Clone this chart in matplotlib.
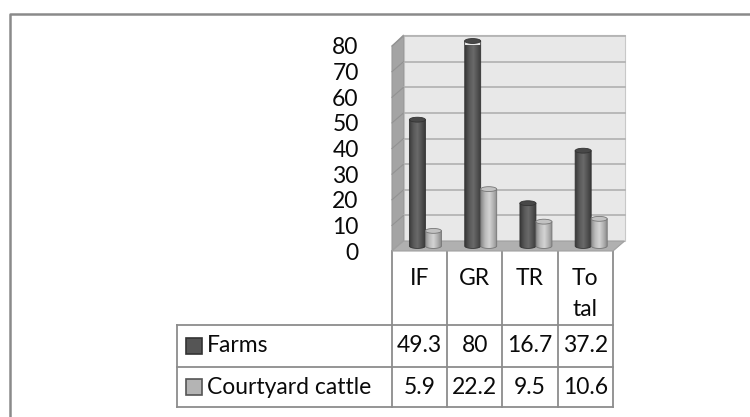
import numpy as np
import matplotlib
matplotlib.use('Agg')
import matplotlib.pyplot as plt
from matplotlib.patches import Polygon, Ellipse, PathPatch, Rectangle
from matplotlib.path import Path
from matplotlib.colors import LinearSegmentedColormap
from matplotlib.transforms import blended_transform_factory

categories = ['IF', 'GR', 'TR', 'Total']
header_labels = ['IF', 'GR', 'TR', 'To\ntal']
farms = [49.3, 80, 16.7, 37.2]
courtyard = [5.9, 22.2, 9.5, 10.6]
series_names = ['Farms', 'Courtyard cattle']
y_ticks = [0, 10, 20, 30, 40, 50, 60, 70, 80]

plt.rcParams['font.family'] = ['Lato', 'DejaVu Sans']
FS = 16.5
TXT = '#0a0a0a'
W, H = 750, 417

fig = plt.figure(figsize=(7.5, 4.17), dpi=100)
fig.patch.set_facecolor('white')

# pixel-space overlay for the outer frame and the data table
bg = fig.add_axes([0, 0, 1, 1])
bg.set_xlim(0, W)
bg.set_ylim(H, 0)
bg.axis('off')
bg.plot([10, 10, W], [H, 14, 14], color='#8a8a8a', lw=1.8, solid_capstyle='butt')

# front plane of the 3d plot area
ax = fig.add_axes([392 / W, 1 - 251 / H, (613 - 392) / W, (251 - 46) / H])
ax.patch.set_visible(False)
for s in ax.spines.values():
    s.set_visible(False)
ax.set_xticks([])
ax.set_yticks(y_ticks)
ax.set_yticklabels([str(t) for t in y_ticks])
ax.tick_params(axis='y', length=0, pad=24, labelsize=FS, labelcolor=TXT)

x_lo, x_hi = -0.5, len(categories) - 0.5
ymax = y_ticks[-1]
dx, dy = 0.21, 3.9  # depth offset in data units

# walls and floor
back = Polygon([(x_lo + dx, dy), (x_hi + dx, dy), (x_hi + dx, ymax + dy + 0.4),
                (x_lo + dx, ymax + dy + 0.4)], closed=True,
               facecolor='#e8e8e8', edgecolor='#c8c8c8', lw=0.8, zorder=1, clip_on=False)
side = Polygon([(x_lo, 0), (x_lo + dx, dy), (x_lo + dx, ymax + dy + 0.4), (x_lo, ymax)],
               closed=True, facecolor='#a4a4a4', edgecolor='#9a9a9a', lw=0.8,
               zorder=1, clip_on=False)
floor = Polygon([(x_lo, 0), (x_hi, 0), (x_hi + dx, dy), (x_lo + dx, dy)], closed=True,
                facecolor='#b0b0b0', edgecolor='#a0a0a0', lw=0.8, zorder=1, clip_on=False)
for p in (back, side, floor):
    ax.add_patch(p)

for t in y_ticks[1:]:
    ax.plot([x_lo + dx, x_hi + dx], [t + dy, t + dy], color='#b4b4b4', lw=1.3,
            zorder=2, clip_on=False)
    ax.plot([x_lo, x_lo + dx], [t, t + dy], color='#929292', lw=0.8,
            zorder=2, clip_on=False)

farm_cmap = LinearSegmentedColormap.from_list(
    'farm', ['#383838', '#585858', '#6a6a6a', '#505050', '#343434'])
yard_cmap = LinearSegmentedColormap.from_list(
    'yard', ['#8a8a8a', '#bcbcbc', '#d4d4d4', '#b0b0b0', '#828282'])

w = 0.29       # cylinder width
eh = 1.9       # ellipse height
base = dy / 2
grad = np.linspace(0, 1, 128)[None, :]
theta = np.linspace(np.pi, 2 * np.pi, 40)


def cylinder(x0, value, cmap, top_color, edge, z):
    top = value + base
    cx = x0 + w / 2
    arc = [(cx + w / 2 * np.cos(t), base + eh / 2 * np.sin(t)) for t in theta]
    verts = [(x0, top)] + arc + [(x0 + w, top), (x0, top)]
    body = PathPatch(Path(verts, closed=True), facecolor='none', edgecolor=edge,
                     lw=0.6, zorder=z + 0.2, clip_on=False)
    ax.add_patch(body)
    im = ax.imshow(grad, extent=[x0, x0 + w, base - eh / 2, top], aspect='auto',
                   cmap=cmap, zorder=z, interpolation='bilinear')
    im.set_clip_path(body)
    im.set_clip_box(None)
    ax.add_patch(Ellipse((cx, top), w, eh, facecolor=top_color, edgecolor=edge,
                         lw=0.6, zorder=z + 0.3, clip_on=False))


for i in range(len(categories)):
    cx = i + dx / 2
    cylinder(cx - w, farms[i], farm_cmap, '#484848', '#333333', 3 + i)
    cylinder(cx, courtyard[i], yard_cmap, '#c2c2c2', '#767676', 3.5 + i)

ax.set_xlim(x_lo, x_hi)
ax.set_ylim(0, ymax)

# data table under the chart
tr = blended_transform_factory(ax.transData, bg.transData)
lc, lw = '#8c8c8c', 1.3
cols = np.arange(len(categories) + 1) - 0.5
head_top, row_top, row_mid, row_bot = 251, 325, 367, 407
leg_left = 177

for c in cols:
    bg.plot([c, c], [head_top, row_bot], color=lc, lw=lw, transform=tr)
bg.plot([leg_left, leg_left], [row_top, row_bot], color=lc, lw=lw)
x_right = bg.transData.inverted().transform(ax.transData.transform((x_hi, 0)))[0]
for yy in (row_top, row_mid, row_bot):
    bg.plot([leg_left, x_right], [yy, yy], color=lc, lw=lw)

for i, lab in enumerate(header_labels):
    bg.text(i, 268, lab, transform=tr, ha='center', va='top', fontsize=FS,
            linespacing=1.6, color=TXT)

rows = [(farms, series_names[0], '#555555', '#333333', (row_top + row_mid) / 2),
        (courtyard, series_names[1], '#b4b4b4', '#555555', (row_mid + row_bot) / 2)]
for vals, name, fc, ec, yc in rows:
    bg.add_patch(Rectangle((186, yc - 8), 16, 16, facecolor=fc, edgecolor=ec, lw=1.2))
    bg.text(207, yc, name, ha='left', va='center', fontsize=FS, color=TXT)
    for i, v in enumerate(vals):
        bg.text(i, yc, f'{v:g}', transform=tr, ha='center', va='center',
                fontsize=FS, color=TXT)

fig.savefig('out.png', dpi=100)
